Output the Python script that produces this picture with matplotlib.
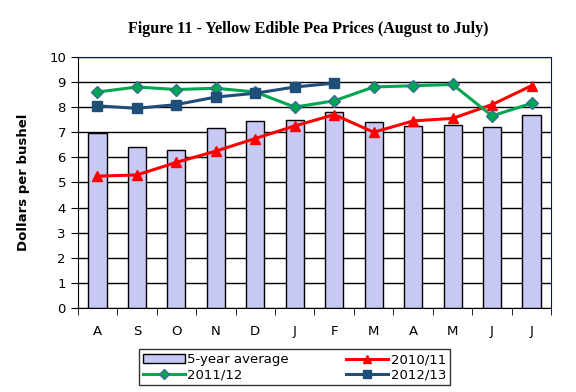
import matplotlib.pyplot as plt
import numpy as np

months = ["A", "S", "O", "N", "D", "J", "F", "M", "A", "M", "J", "J"]
avg5 = [6.97, 6.42, 6.3, 7.17, 7.45, 7.49, 7.8, 7.41, 7.25, 7.28, 7.2, 7.68]
y1011 = [5.25, 5.3, 5.8, 6.25, 6.75, 7.25, 7.7, 7.0, 7.45, 7.55, 8.1, 8.85]
y1112 = [8.6, 8.8, 8.7, 8.75, 8.6, 8.0, 8.25, 8.8, 8.85, 8.9, 7.65, 8.15]
y1213 = [8.05, 7.95, 8.1, 8.4, 8.55, 8.8, 8.95]

fig = plt.figure(figsize=(5.76, 3.92), dpi=100)
ax = fig.add_axes([0.135, 0.214, 0.822, 0.641])
x = np.arange(len(months))

ax.bar(x, avg5, width=0.46, color="#C8C8F5", edgecolor="black", linewidth=1,
       label="5-year average", zorder=2)
ax.plot(x, y1011, color="red", lw=2.2, marker="^", ms=7, label="2010/11", zorder=3)
ax.plot(x, y1112, color="#00A650", lw=2.2, marker="D", ms=6,
        markerfacecolor="#00A650", markeredgecolor="#3A6E8F", label="2011/12", zorder=3)
ax.plot(x[:len(y1213)], y1213, color="#1F4E79", lw=2.2, marker="s", ms=7,
        label="2012/13", zorder=4)

ax.set_ylim(0, 10)
ax.set_xlim(-0.5, len(months) - 0.5)
ax.set_yticks(range(0, 11))
ax.yaxis.grid(True, color="black", lw=1)
ax.set_axisbelow(True)

ax.set_xticks(x)
ax.set_xticklabels(months)
ax.set_xticks(np.arange(-0.5, len(months)), minor=True)
ax.tick_params(axis="x", which="major", length=0, pad=12, labelsize=9.5)
ax.tick_params(axis="x", which="minor", length=5, direction="out")
ax.tick_params(axis="y", length=5, direction="out", labelsize=9.5)

ax.spines["top"].set_color("#0000CC")
ax.spines["right"].set_color("#0000CC")

ax.set_ylabel("Dollars per bushel", fontweight="bold", fontsize=9.5, labelpad=14)
fig.text(0.535, 0.925, "Figure 11 - Yellow Edible Pea Prices (August to July)",
         ha="center", va="center", family="Liberation Serif", fontweight="bold",
         fontsize=11.5)

handles, labels = ax.get_legend_handles_labels()
order = [3, 1, 0, 2]
handles = [handles[i] for i in order]
labels = [labels[i] for i in order]
leg = fig.legend(handles, labels, ncol=2, loc="center", bbox_to_anchor=(0.511, 0.063),
                 frameon=True, fancybox=False, edgecolor="black", fontsize=9.5,
                 handlelength=3.2, columnspacing=4.3, handletextpad=0.2,
                 labelspacing=0.15, borderpad=0.3, markerscale=0.8)
leg.get_frame().set_linewidth(1)

plt.savefig("out.png", dpi=100)
